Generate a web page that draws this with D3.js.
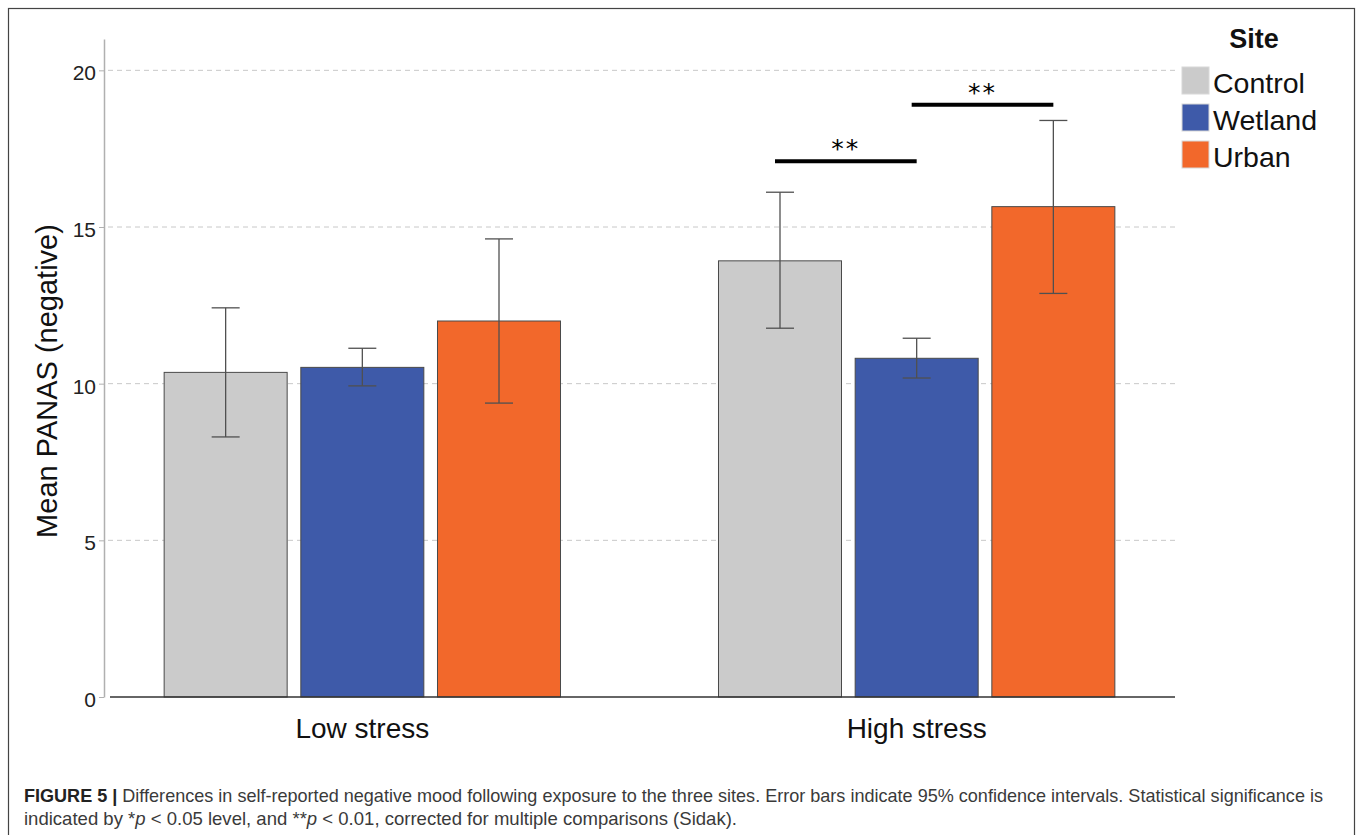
<!DOCTYPE html>
<html>
<head>
<meta charset="utf-8">
<script src="https://cdn.jsdelivr.net/npm/d3@7"></script>
<style>
  body { margin: 0; background: #fff; }
  svg { display: block; font-family: "Liberation Sans", Arial, sans-serif; }
</style>
</head>
<body>
<svg width="1357" height="835"></svg>
<script>
// Chart data
const groups = ["Low stress", "High stress"];
const sites = ["Control", "Wetland", "Urban"];
const siteColors = ["#cbcbcb", "#3e5aa9", "#f2682b"];
const means = [[10.36, 10.52, 12.0], [13.92, 10.81, 15.65]];
const ciLow = [[8.30, 9.93, 9.38], [11.77, 10.18, 12.88]];
const ciHigh = [[12.42, 11.13, 14.62], [16.11, 11.45, 18.40]];
const yTicks = [0, 5, 10, 15, 20];
const sigGroups = ["High stress", "High stress"];
const sigFrom = ["Control", "Wetland"];
const sigTo = ["Wetland", "Urban"];
const sigLevel = [17.1, 18.9];
const sigLabels = ["**", "**"];

const svg = d3.select("svg");

// figure frame
svg.append("rect")
    .attr("x", 8.5).attr("y", 8.5)
    .attr("width", 1346).attr("height", 840)
    .attr("fill", "none").attr("stroke", "#444").attr("stroke-width", 1.2);

const plot = {left: 104, right: 1175, top: 39, bottom: 697};

const x0 = d3.scaleBand()
    .domain(groups)
    .range([plot.left, plot.right])
    .paddingInner(0.285)
    .paddingOuter(0.1085);

const x1 = d3.scaleBand()
    .domain(sites)
    .range([0, x0.bandwidth()])
    .paddingInner(0.1);

const y = d3.scaleLinear()
    .domain([0, 21])
    .range([plot.bottom, plot.top]);

const color = d3.scaleOrdinal().domain(sites).range(siteColors);

// dashed grid lines
svg.append("g")
    .selectAll("line")
    .data(yTicks.filter(d => d > 0))
    .enter()
    .append("line")
    .attr("x1", plot.left + 4)
    .attr("x2", plot.right)
    .attr("y1", d => y(d))
    .attr("y2", d => y(d))
    .attr("stroke", "#c8c8c8")
    .attr("stroke-dasharray", "5,4");

// flatten data for bars
const rows = [];
groups.forEach((g, i) => {
    sites.forEach((s, j) => {
        rows.push({group: g, site: s, mean: means[i][j], lo: ciLow[i][j], hi: ciHigh[i][j]});
    });
});

const bars = svg.append("g");
bars.selectAll("rect")
    .data(rows)
    .enter()
    .append("rect")
    .attr("x", d => x0(d.group) + x1(d.site))
    .attr("y", d => y(d.mean))
    .attr("width", x1.bandwidth())
    .attr("height", d => y(0) - y(d.mean))
    .attr("fill", d => color(d.site))
    .attr("stroke", "#4a4a4a")
    .attr("stroke-width", 1);

// error bars
const capW = 28;
const err = svg.append("g").attr("stroke", "#505050").attr("stroke-width", 1.3);
rows.forEach(d => {
    const cx = x0(d.group) + x1(d.site) + x1.bandwidth() / 2;
    err.append("line").attr("x1", cx).attr("x2", cx).attr("y1", y(d.hi)).attr("y2", y(d.lo));
    err.append("line").attr("x1", cx - capW / 2).attr("x2", cx + capW / 2).attr("y1", y(d.hi)).attr("y2", y(d.hi));
    err.append("line").attr("x1", cx - capW / 2).attr("x2", cx + capW / 2).attr("y1", y(d.lo)).attr("y2", y(d.lo));
});

// y axis
const yAxis = svg.append("g")
    .attr("transform", `translate(${plot.left},0)`)
    .call(d3.axisLeft(y).tickValues(yTicks).tickSize(5).tickSizeOuter(0).tickPadding(3));
yAxis.select(".domain").attr("stroke", "#b0b0b0").attr("stroke-width", 1.5);
yAxis.selectAll(".tick line").attr("stroke", "#b0b0b0");
yAxis.selectAll(".tick text")
    .attr("font-size", 21)
    .attr("font-family", "Liberation Sans, Arial, sans-serif")
    .attr("fill", "#222")
    .attr("dy", "0.45em");

// baseline
svg.append("line")
    .attr("x1", plot.left + 6).attr("x2", plot.right)
    .attr("y1", y(0)).attr("y2", y(0))
    .attr("stroke", "#333").attr("stroke-width", 1.5);

// group labels
svg.append("g")
    .selectAll("text")
    .data(groups)
    .enter()
    .append("text")
    .attr("x", d => x0(d) + x0.bandwidth() / 2)
    .attr("y", 738)
    .attr("text-anchor", "middle")
    .attr("font-size", 28)
    .attr("fill", "#111")
    .text(d => d);

// y axis title
svg.append("text")
    .attr("transform", "translate(57,381) rotate(-90)")
    .attr("text-anchor", "middle")
    .attr("font-size", 29)
    .attr("fill", "#111")
    .text("Mean PANAS (negative)");

// significance markers
sigLabels.forEach((lab, i) => {
    const g = sigGroups[i];
    const xa = x0(g) + x1(sigFrom[i]) + x1.bandwidth() / 2 - 5;
    const xb = x0(g) + x1(sigTo[i]) + x1.bandwidth() / 2;
    svg.append("line")
        .attr("x1", xa).attr("x2", xb)
        .attr("y1", y(sigLevel[i])).attr("y2", y(sigLevel[i]))
        .attr("stroke", "#000").attr("stroke-width", 4);
    svg.append("text")
        .attr("x", (xa + xb) / 2)
        .attr("y", y(sigLevel[i]) - 4)
        .attr("text-anchor", "middle")
        .attr("font-family", "DejaVu Sans, sans-serif")
        .attr("font-size", 25)
        .attr("letter-spacing", 2)
        .attr("fill", "#000")
        .text(lab);
});

// legend
const legend = svg.append("g");
legend.append("text")
    .attr("x", 1254).attr("y", 48)
    .attr("text-anchor", "middle")
    .attr("font-size", 27)
    .attr("font-weight", "bold")
    .attr("fill", "#111")
    .text("Site");
const item = legend.selectAll("g.item")
    .data(sites)
    .enter()
    .append("g")
    .attr("class", "item")
    .attr("transform", (d, i) => `translate(1182,${67 + i * 37})`);
item.append("rect")
    .attr("width", 27).attr("height", 27)
    .attr("fill", d => color(d))
    .attr("stroke", "#d8d8d8").attr("stroke-width", 1);
item.append("text")
    .attr("x", 31).attr("y", 26)
    .attr("font-size", 28.5)
    .attr("fill", "#111")
    .text(d => d);

// caption
const cap1 = svg.append("text")
    .attr("x", 24).attr("y", 802)
    .attr("font-size", 18.5)
    .attr("fill", "#3a3a3a")
    .attr("textLength", 1299)
    .attr("lengthAdjust", "spacingAndGlyphs");
cap1.append("tspan").attr("font-weight", "bold").attr("fill", "#222").text("FIGURE 5 | ");
cap1.append("tspan").text("Differences in self-reported negative mood following exposure to the three sites. Error bars indicate 95% confidence intervals. Statistical significance is");

const cap2 = svg.append("text")
    .attr("x", 24).attr("y", 825)
    .attr("font-size", 18.5)
    .attr("fill", "#3a3a3a")
    .attr("textLength", 713)
    .attr("lengthAdjust", "spacingAndGlyphs");
cap2.append("tspan").text("indicated by *");
cap2.append("tspan").attr("font-style", "italic").text("p");
cap2.append("tspan").text(" < 0.05 level, and **");
cap2.append("tspan").attr("font-style", "italic").text("p");
cap2.append("tspan").text(" < 0.01, corrected for multiple comparisons (Sidak).");
</script>
</body>
</html>
